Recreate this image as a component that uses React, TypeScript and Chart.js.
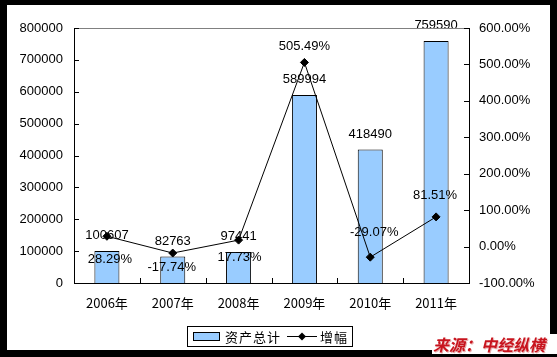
import React, { useEffect, useRef } from "react";
import { Chart, registerables } from "chart.js";

Chart.register(...registerables);

const categories = ["2006年", "2007年", "2008年", "2009年", "2010年", "2011年"];
const totalAssets = [100607, 82763, 97441, 589994, 418490, 759590];
const growthPct = [28.29, -17.74, 17.73, 505.49, -29.07, 81.51];
const growthLabelDy = [23, 14, 17, -16, -25, -21];
const growthLabelDx = [3, -1, 1, 0, 4, -1];

const FONT = "'Liberation Sans', 'Noto Sans CJK SC', Arial, sans-serif";
const CJK = "'Noto Sans CJK SC', 'Liberation Sans', sans-serif";

const framePlugin = {
  id: "frame",
  beforeDraw(chart: any) {
    const ctx = chart.ctx;
    ctx.save();
    ctx.fillStyle = "#000";
    ctx.fillRect(0, 0, chart.width, chart.height);
    ctx.fillStyle = "#fff";
    ctx.fillRect(7, 5, 543, 345);
    ctx.restore();
  },
  afterDraw(chart: any) {
    const ctx = chart.ctx;
    const { left, right, top, bottom } = chart.chartArea;
    ctx.save();
    ctx.strokeStyle = "#808080";
    ctx.lineWidth = 1;
    ctx.beginPath();
    ctx.moveTo(left, top + 0.5);
    ctx.lineTo(right, top + 0.5);
    ctx.stroke();
    ctx.strokeStyle = "#000";
    ctx.beginPath();
    const y = chart.scales.y;
    y.ticks.forEach((t: any) => {
      const py = Math.round(y.getPixelForValue(t.value)) + 0.5;
      ctx.moveTo(left, py);
      ctx.lineTo(left + 5, py);
    });
    const y1 = chart.scales.y1;
    y1.ticks.forEach((t: any) => {
      const py = Math.round(y1.getPixelForValue(t.value)) + 0.5;
      ctx.moveTo(right - 5, py);
      ctx.lineTo(right, py);
    });
    const n = categories.length;
    const w = (right - left) / n;
    for (let i = 1; i < n; i++) {
      const px = Math.round(left + i * w) + 0.5;
      ctx.moveTo(px, bottom);
      ctx.lineTo(px, bottom - 5);
    }
    ctx.stroke();

    ctx.fillStyle = "#fff";
    ctx.fillRect(187, 326, 165, 20);
    ctx.strokeStyle = "#000";
    ctx.strokeRect(187.5, 326.5, 165, 20);
    ctx.fillStyle = "#99CCFF";
    ctx.fillRect(193, 332, 27, 8);
    ctx.strokeRect(193.5, 332.5, 26, 8);
    ctx.fillStyle = "#000";
    ctx.font = `13px ${CJK}`;
    ctx.textBaseline = "middle";
    ctx.textAlign = "left";
    ["资", "产", "总", "计"].forEach((c, i) => ctx.fillText(c, 225 + i * 14, 337));
    ctx.beginPath();
    ctx.moveTo(287, 336.5);
    ctx.lineTo(317, 336.5);
    ctx.stroke();
    ctx.beginPath();
    ctx.moveTo(302, 332.5);
    ctx.lineTo(306, 336.5);
    ctx.lineTo(302, 340.5);
    ctx.lineTo(298, 336.5);
    ctx.closePath();
    ctx.fill();
    ["增", "幅"].forEach((c, i) => ctx.fillText(c, 320 + i * 14, 337));

    ctx.fillStyle = "#fff";
    ctx.fillRect(432, 334, 125, 20);
    ctx.font = `italic bold 16px ${CJK}`;
    ctx.fillStyle = "#E8B0B0";
    ctx.fillText("来源：中经纵横", 434, 346);
    ctx.fillStyle = "#C8141E";
    ctx.fillText("来源：中经纵横", 433, 345);
    ctx.restore();
  },
  afterDatasetsDraw(chart: any) {
    const ctx = chart.ctx;
    ctx.save();
    ctx.font = `13px ${FONT}`;
    ctx.fillStyle = "#000";
    ctx.textAlign = "center";
    ctx.textBaseline = "middle";
    const barMeta = chart.getDatasetMeta(0);
    barMeta.data.forEach((el: any, i: number) => {
      ctx.fillText(String(totalAssets[i]), el.x, el.y - 15.5);
    });
    const lineMeta = chart.getDatasetMeta(1);
    lineMeta.data.forEach((el: any, i: number) => {
      ctx.fillText(growthPct[i].toFixed(2) + "%", el.x + growthLabelDx[i], el.y + growthLabelDy[i]);
    });
    ctx.restore();
  },
};

export default function App() {
  const ref = useRef<HTMLCanvasElement>(null);
  useEffect(() => {
    if (!ref.current) return;
    const chart = new Chart(ref.current, {
      type: "bar",
      data: {
        labels: categories,
        datasets: [
          {
            type: "bar",
            label: "资产总计",
            data: totalAssets,
            backgroundColor: "#99CCFF",
            borderColor: "#000",
            borderWidth: 1,
            barPercentage: 0.38,
            categoryPercentage: 1,
            yAxisID: "y",
            order: 1,
          } as any,
          {
            type: "line",
            label: "增幅",
            data: growthPct,
            borderColor: "#000",
            borderWidth: 1,
            backgroundColor: "#000",
            pointStyle: "rectRot",
            pointRadius: 4,
            pointBackgroundColor: "#000",
            pointBorderColor: "#000",
            tension: 0,
            yAxisID: "y1",
            order: 0,
          } as any,
        ],
      },
      options: {
        responsive: false,
        animation: false,
        devicePixelRatio: 1,
        layout: { padding: { top: 28, left: 0, right: 0, bottom: 44 } },
        plugins: { legend: { display: false }, tooltip: { enabled: false } },
        scales: {
          x: {
            grid: { display: false, drawTicks: false },
            border: { display: true, color: "#000", width: 1 },
            ticks: { color: "#000", font: { family: CJK, size: 13 }, padding: 12 },
            afterFit: (s: any) => { s.height = 30; },
          },
          y: {
            position: "left",
            min: 0,
            max: 800000,
            grid: { display: false, drawTicks: false },
            border: { display: true, color: "#000", width: 1 },
            ticks: {
              stepSize: 100000,
              color: "#000",
              font: { family: FONT, size: 13 },
              padding: 11,
              callback: (v: any) => String(v),
            },
            afterFit: (s: any) => { s.width = 74; },
          },
          y1: {
            position: "right",
            min: -100,
            max: 600,
            grid: { display: false, drawTicks: false },
            border: { display: true, color: "#000", width: 1 },
            ticks: {
              stepSize: 100,
              color: "#000",
              font: { family: FONT, size: 13 },
              padding: 10,
              callback: (v: any) => Number(v).toFixed(2) + "%",
            },
            afterFit: (s: any) => { s.width = 88; },
          },
        },
      } as any,
      plugins: [framePlugin],
    });
    return () => chart.destroy();
  }, []);
  return (
    <div style={{ position: "fixed", left: 0, top: 0, width: 557, height: 357 }}>
      <canvas ref={ref} width={557} height={357} style={{ display: "block", width: 557, height: 357 }} />
    </div>
  );
}
